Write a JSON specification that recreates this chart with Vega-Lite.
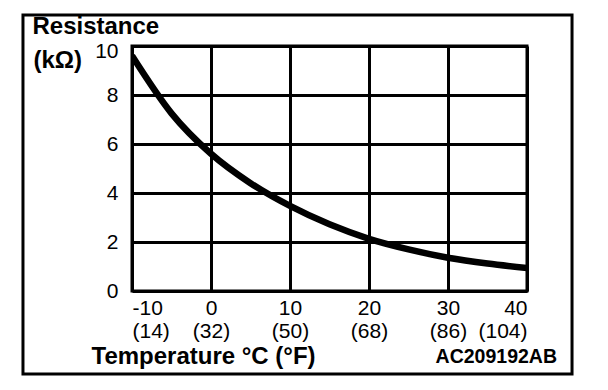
{
  "$schema": "https://vega.github.io/schema/vega-lite/v6.json",
  "width": 395,
  "height": 245,
  "autosize": "none",
  "padding": {"left": 132, "top": 46, "right": 81, "bottom": 99},
  "background": "white",
  "config": {
    "view": {"stroke": "black", "strokeWidth": 3},
    "font": "Liberation Sans"
  },
  "data": {
    "values": [
      {"temp": -10, "resistance": 9.6},
      {"temp": -5, "resistance": 7.25},
      {"temp": 0, "resistance": 5.6},
      {"temp": 5, "resistance": 4.4},
      {"temp": 10, "resistance": 3.47},
      {"temp": 15, "resistance": 2.72},
      {"temp": 20, "resistance": 2.13},
      {"temp": 25, "resistance": 1.7},
      {"temp": 30, "resistance": 1.36},
      {"temp": 35, "resistance": 1.12},
      {"temp": 40, "resistance": 0.94}
    ]
  },
  "layer": [
    {
      "data": {"values": [{"id": "frame"}]},
      "mark": {"type": "rect", "fill": null, "fillOpacity": 0, "stroke": "black", "strokeWidth": 3, "clip": false},
      "encoding": {
        "x": {"datum": -23.8, "type": "quantitative"},
        "x2": {"datum": 45.7},
        "y": {"datum": 11.27, "type": "quantitative"},
        "y2": {"datum": -3.39}
      }
    },
    {
      "mark": {"type": "line", "color": "black", "strokeWidth": 6.5, "interpolate": "monotone", "clip": true},
      "encoding": {
        "x": {
          "field": "temp",
          "type": "quantitative",
          "scale": {"domain": [-10, 40], "nice": false, "zero": false},
          "axis": {
            "values": [-10, 0, 10, 20, 30, 40],
            "grid": true,
            "gridColor": "black",
            "gridWidth": 3,
            "gridOpacity": 1,
            "domain": false,
            "ticks": false,
            "labelFont": "Liberation Sans",
            "labelFontSize": 21,
            "labelColor": "black",
            "labelPadding": 6,
            "labelLineHeight": 23,
            "labelExpr": "['' + datum.value, '(' + (datum.value * 9 / 5 + 32) + ')']",
            "title": "Temperature °C (°F)",
            "titleFont": "Liberation Sans",
            "titleFontSize": 24,
            "titleFontWeight": "bold",
            "titleColor": "black",
            "titleAlign": "left",
            "titleAnchor": "start",
            "titleBaseline": "alphabetic",
            "titleX": -41,
            "titleY": 72
          }
        },
        "y": {
          "field": "resistance",
          "type": "quantitative",
          "scale": {"domain": [0, 10], "nice": false},
          "axis": {
            "values": [0, 2, 4, 6, 8, 10],
            "grid": true,
            "gridColor": "black",
            "gridWidth": 3,
            "gridOpacity": 1,
            "domain": false,
            "ticks": false,
            "labelFont": "Liberation Sans",
            "labelFontSize": 21,
            "labelColor": "black",
            "labelPadding": 14,
            "labelOffset": {"condition": {"test": "datum.value == 10", "value": 5.5}, "value": 0},
            "title": "(kΩ)",
            "titleFont": "Liberation Sans",
            "titleFontSize": 24,
            "titleFontWeight": "bold",
            "titleColor": "black",
            "titleAngle": 0,
            "titleAlign": "left",
            "titleBaseline": "alphabetic",
            "titleX": -99,
            "titleY": 21
          }
        }
      }
    },
    {
      "data": {"values": [{"label": "Resistance"}]},
      "mark": {"type": "text", "align": "left", "baseline": "alphabetic", "font": "Liberation Sans", "fontSize": 24, "fontWeight": "bold", "color": "black", "clip": false},
      "encoding": {
        "text": {"field": "label"},
        "x": {"datum": -22.6, "type": "quantitative"},
        "y": {"datum": 10.47, "type": "quantitative"}
      }
    },
    {
      "data": {"values": [{"code": "AC209192AB"}]},
      "mark": {"type": "text", "align": "right", "baseline": "alphabetic", "font": "Liberation Sans", "fontSize": 19.5, "fontWeight": "bold", "color": "black", "clip": false},
      "encoding": {
        "text": {"field": "code"},
        "x": {"datum": 43.8, "type": "quantitative"},
        "y": {"datum": -2.95, "type": "quantitative"}
      }
    }
  ]
}
